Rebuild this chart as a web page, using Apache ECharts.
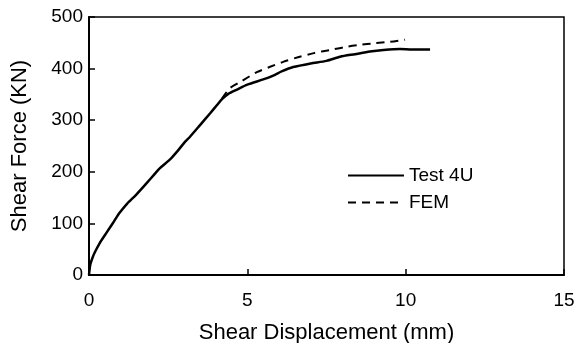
<!DOCTYPE html>
<html><head><meta charset="utf-8">
<script src="https://cdn.jsdelivr.net/npm/echarts@6/dist/echarts.min.js"></script>
<style>html,body{margin:0;padding:0;background:#fff}#c{width:580px;height:343px}</style>
</head><body><div id="c"></div>
<script>
const testX = [0,0.04,0.12,0.2,0.33,0.5,0.64,0.8,0.96,1.2,1.48,1.82,2.05,2.24,2.56,2.82,3.03,3.19,3.5,3.82,4.05,4.2,4.4,4.66,5.0,5.5,5.8,6.1,6.45,7.0,7.5,7.93,8.4,8.87,9.3,9.82,10.2,10.77];
const testY = [0,20,35,46,61,77,90,105,120,138,155,178,194,207,224,242,258,268,290,313,330,341,351,359,369,379,386,395,403,410,415,423,428,433,436,438,437,437];
const femX = [4.2,4.45,4.8,5.3,5.7,6.13,6.6,7.1,7.6,8.1,8.56,9.0,9.5,9.98];
const femY = [342,362,375,393,403,413,422,430,436,442,446,449,452,456];
const xTicks = [0,5,10,15];
const yTicks = [0,100,200,300,400,500];
const seriesNames = ['Test 4U','FEM'];

const font = 'Liberation Sans, Arial, sans-serif';
const fs = 19;
const ts = 22;
const chart = echarts.init(document.getElementById('c'));
chart.setOption({
  backgroundColor:'#fff',
  animation:false,
  grid:{left:89,right:16,top:17,bottom:68,containLabel:false,outerBoundsMode:'none',show:true,borderColor:'#000',borderWidth:1.5},
  legend:{
    orient:'vertical',left:342,top:161,itemWidth:56,itemHeight:10,itemGap:8,
    itemStyle:{opacity:0},
    textStyle:{fontFamily:font,fontSize:fs,color:'#000'},
    data:seriesNames
  },
  xAxis:{
    type:'value',min:xTicks[0],max:xTicks[xTicks.length-1],interval:5,
    name:'Shear Displacement (mm)',nameLocation:'middle',nameGap:47,
    nameTextStyle:{fontFamily:font,fontSize:ts,color:'#000'},
    axisLine:{show:true,lineStyle:{color:'#000',width:2}},
    axisTick:{show:true,inside:true,length:6,lineStyle:{color:'#000',width:1.5}},
    axisLabel:{fontFamily:font,fontSize:fs,color:'#000',margin:16},
    splitLine:{show:false}
  },
  yAxis:{
    type:'value',min:yTicks[0],max:yTicks[yTicks.length-1],interval:100,
    name:'Shear Force (KN)',nameLocation:'middle',nameGap:58,
    nameTextStyle:{fontFamily:font,fontSize:ts,color:'#000'},
    axisLine:{show:true,lineStyle:{color:'#000',width:2}},
    axisTick:{show:true,inside:true,length:6,lineStyle:{color:'#000',width:1.5}},
    axisLabel:{fontFamily:font,fontSize:fs,color:'#000',margin:6},
    splitLine:{show:false}
  },
  series:[
    {name:seriesNames[0],type:'line',showSymbol:false,symbol:'none',smooth:0.25,
     data:testX.map((x,i)=>[x,testY[i]]),
     lineStyle:{color:'#000',width:2.5},itemStyle:{color:'#000'}},
    {name:seriesNames[1],type:'line',showSymbol:false,symbol:'none',smooth:0.3,
     data:femX.map((x,i)=>[x,femY[i]]),
     lineStyle:{color:'#000',width:2,type:[8,6]},itemStyle:{color:'#000'}}
  ]
});
</script></body></html>
